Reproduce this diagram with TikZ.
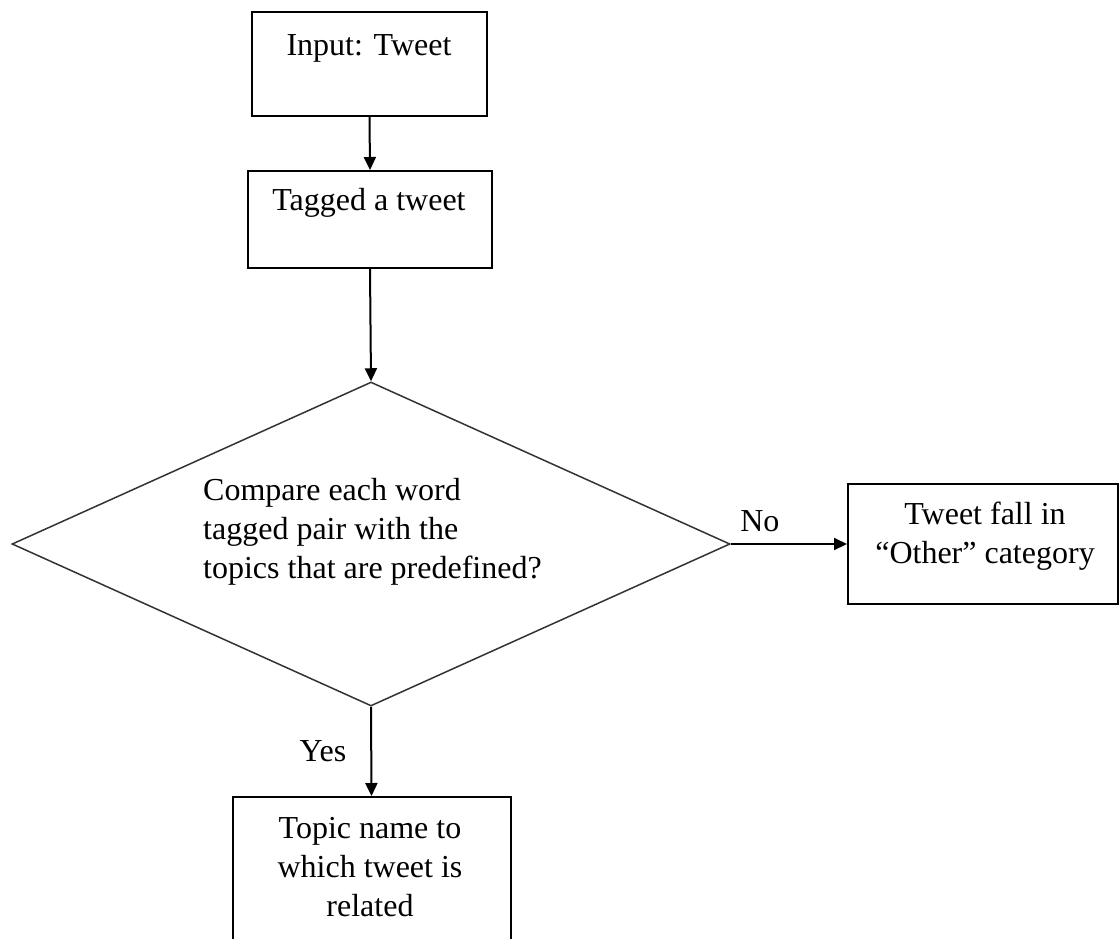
\documentclass[tikz,border=0pt]{standalone}
\usepackage{fontspec}
\setmainfont{Liberation Serif}
\usetikzlibrary{shapes.geometric,arrows.meta}
\begin{document}
\begin{tikzpicture}[x=1pt,y=1pt,
  box/.style={draw=black,line width=2pt,rectangle,inner sep=0pt},
  decision/.style={draw=black!80,line width=1.5pt,diamond,inner sep=0pt},
  txt/.style={inner sep=0pt,align=center,font=\fontsize{32}{39}\selectfont},
  lbl/.style={inner sep=0pt,font=\fontsize{32}{39}\selectfont},
  flow/.style={line width=2pt,-{Triangle[length=13pt,width=12pt]}}]
\clip (0,0) rectangle (1119,-938);
\fill[white] (0,0) rectangle (1119,-938);

% boxes and decision
\node[box,minimum width=235pt,minimum height=104pt] (input) at (369.5,-64) {};
\node[box,minimum width=244pt,minimum height=97pt] (tag) at (370,-219.5) {};
\node[decision,minimum width=718pt,minimum height=324pt] (cmp) at (371,-544) {};
\node[box,minimum width=270pt,minimum height=120pt] (other) at (983,-544) {};
\node[box,minimum width=278pt,minimum height=170pt] (topic) at (371.5,-882) {};

% texts (base anchor = baseline of the last line)
\node[txt,anchor=base] (tInput) at (369,-55) {Input: Tweet};
\node[txt,anchor=base] (tTag) at (369,-210) {Tagged a tweet};
\node[txt,anchor=base west,align=left] (tCmp) at (203,-578)
  {Compare each word\\tagged pair with the\\topics that are predefined?};
\node[txt,anchor=base] (tOther) at (985,-563) {Tweet fall in\\“Other” category};
\node[txt,anchor=base] (tTopic) at (370,-916) {Topic name to\\which tweet is\\related};

% connectors
\draw[flow] (input.south) -- (tag.north);
\draw[flow] (tag.south) -- (cmp.north);
\draw[flow] (cmp.east) -- node[lbl,above=11pt,pos=0.25] (no) {No} (other.west);
\draw[flow] (cmp.south) -- node[lbl,left=24pt,pos=0.5] (yes) {Yes} (topic.north);
\end{tikzpicture}
\end{document}
